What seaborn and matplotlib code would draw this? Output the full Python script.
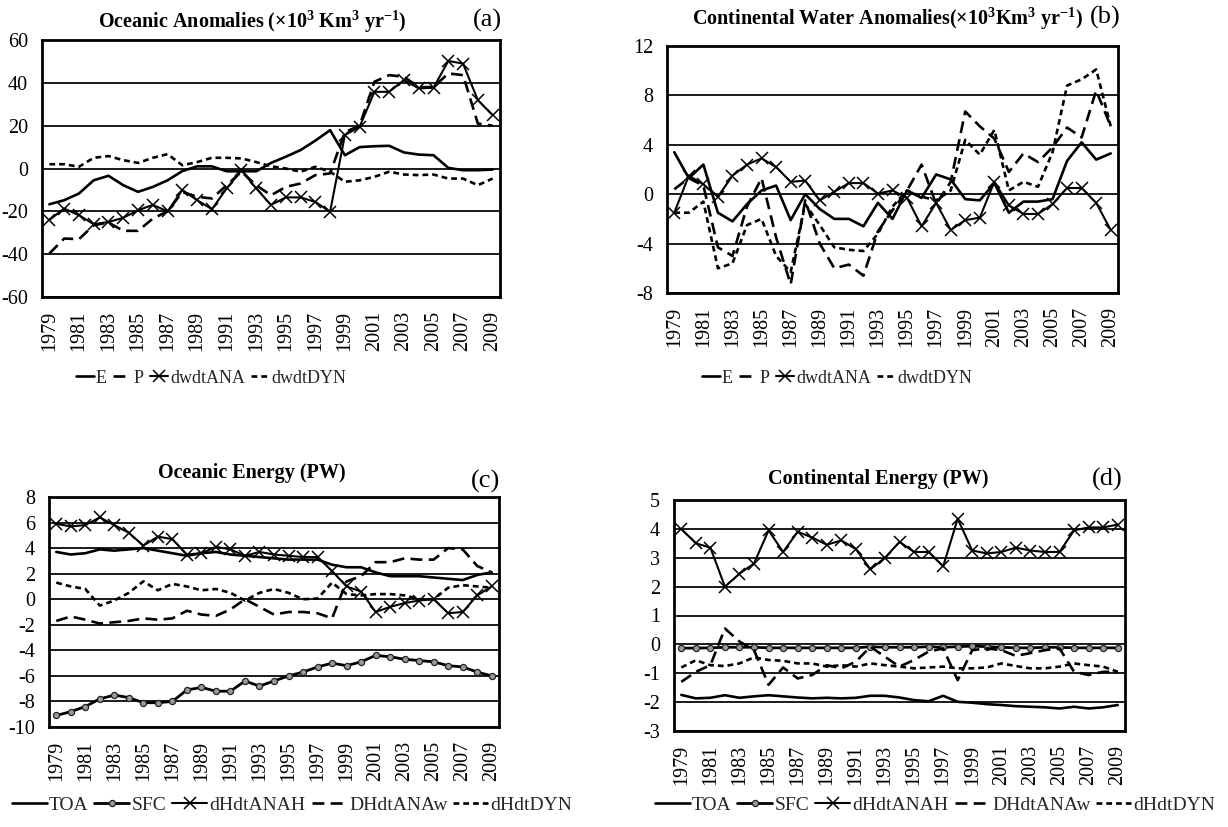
import numpy as np
import matplotlib
matplotlib.use('Agg')
import matplotlib.pyplot as plt
import seaborn as sns

years = list(range(1979, 2010))

# Panel (a) Oceanic anomalies
a_E = [-16.7, -14.8, -11.7, -5.5, -3.4, -7.8, -10.9, -8.6, -5.5, -1.2, 1.0, 1.0, -1.3, -1.3, -1.3, 2.6,
       5.5, 8.6, 13.0, 17.9, 6.2, 10.0, 10.4, 10.6, 7.5, 6.5, 6.2, 0.3, -0.8, -0.8, -0.5]
a_P = [-39.7, -32.7, -33.0, -26.5, -25.2, -29.1, -29.1, -23.4, -20.0, -11.0, -13.2, -14.0, -7.8, -1.5, -7.8,
       -12.5, -8.6, -7.0, -3.1, -2.3, 17.0, 20.0, 40.5, 43.6, 42.8, 38.0, 38.0, 44.4, 43.6, 21.0, 20.0]
a_ANA = [-24.0, -18.7, -21.8, -26.0, -25.0, -23.0, -19.5, -17.0, -20.0, -10.0, -14.8, -19.0, -9.3, -0.8, -9.3,
         -17.0, -13.5, -13.5, -15.6, -20.2, 15.6, 19.5, 35.8, 35.8, 41.3, 37.4, 37.7, 50.2, 49.0, 31.9, 24.9]
a_DYN = [2.0, 2.0, 0.8, 5.0, 5.8, 3.9, 2.6, 5.0, 6.7, 1.5, 3.0, 5.0, 5.0, 4.7, 3.0, 1.0, 0.0, -1.5, 0.8,
         -1.5, -6.2, -5.5, -3.9, -1.5, -2.8, -3.1, -2.8, -4.7, -4.7, -7.8, -4.7]

# Panel (b) Continental water anomalies
b_E = [3.4, 1.3, 2.4, -1.5, -2.2, -0.8, 0.3, 0.7, -2.1, 0.0, -1.2, -2.0, -2.0, -2.6, -0.7, -2.0, 0.3, -0.3,
       1.6, 1.2, -0.4, -0.5, 0.9, -1.5, -0.6, -0.6, -0.4, 2.7, 4.2, 2.8, 3.3]
b_P = [0.4, 1.3, 0.7, -4.3, -5.0, -1.0, 1.3, -3.5, -7.3, -0.5, -4.0, -6.0, -5.7, -6.6, -3.0, -1.3, 0.3, 2.4,
       -0.8, 1.0, 6.7, 5.5, 4.5, 1.8, 3.3, 2.6, 3.8, 5.4, 4.6, 8.4, 5.5]
b_ANA = [-1.5, 1.5, 0.8, -0.2, 1.5, 2.4, 2.9, 2.2, 1.0, 1.1, -0.5, 0.2, 0.9, 0.9, 0.05, 0.3, -0.3, -2.6,
         -0.7, -2.9, -2.1, -1.9, 1.0, -0.9, -1.6, -1.6, -0.8, 0.5, 0.5, -0.7, -2.9]
b_DYN = [-1.5, -1.5, -0.6, -6.0, -5.6, -2.5, -2.0, -5.0, -6.3, -0.8, -2.5, -4.3, -4.5, -4.6, -3.2, -1.0, 0.3,
         -0.2, -0.5, 0.3, 4.4, 3.2, 5.2, 0.3, 1.0, 0.6, 3.4, 8.8, 9.3, 10.1, 5.5]

# Panel (c) Oceanic energy
c_TOA = [3.7, 3.5, 3.6, 3.9, 3.8, 3.9, 4.0, 3.8, 3.6, 3.4, 3.6, 3.7, 3.5, 3.4, 3.3, 3.2, 3.1, 3.1, 3.1, 2.7,
         2.5, 2.5, 2.1, 1.8, 1.8, 1.8, 1.7, 1.6, 1.5, 1.9, 2.1]
c_SFC = [-9.1, -8.8, -8.4, -7.8, -7.5, -7.7, -8.1, -8.1, -8.0, -7.1, -6.9, -7.2, -7.2, -6.4, -6.8, -6.4, -6.0,
         -5.7, -5.3, -5.0, -5.2, -4.9, -4.4, -4.5, -4.7, -4.8, -4.9, -5.2, -5.3, -5.7, -6.0]
c_ANAH = [5.9, 5.7, 5.8, 6.4, 5.8, 5.2, 4.2, 4.9, 4.7, 3.5, 3.6, 4.1, 3.9, 3.4, 3.7, 3.5, 3.4, 3.3, 3.3, 2.2,
          1.0, 0.6, -1.0, -0.6, -0.3, -0.1, 0.0, -1.1, -1.0, 0.3, 1.0]
c_ANAw = [-1.7, -1.35, -1.6, -1.9, -1.8, -1.7, -1.5, -1.6, -1.5, -0.9, -1.2, -1.3, -0.8, 0.0, -0.6, -1.2, -1.0,
          -1.0, -1.1, -1.5, 1.4, 1.8, 2.9, 2.9, 3.2, 3.1, 3.1, 4.0, 3.9, 2.6, 2.1]
c_DYN = [1.3, 1.0, 0.8, -0.5, -0.1, 0.5, 1.4, 0.7, 1.2, 1.0, 0.7, 0.8, 0.5, -0.1, 0.5, 0.8, 0.5, 0.0, 0.05,
         1.3, 0.4, 0.3, 0.4, 0.4, 0.3, 0.0, 0.0, 0.9, 1.1, 1.0, 0.9]

# Panel (d) Continental energy
d_TOA = [-1.75, -1.87, -1.85, -1.76, -1.85, -1.8, -1.76, -1.8, -1.84, -1.87, -1.85, -1.87, -1.85, -1.78, -1.78,
         -1.84, -1.93, -1.97, -1.78, -1.99, -2.02, -2.07, -2.1, -2.14, -2.16, -2.18, -2.22, -2.16, -2.22, -2.18, -2.1]
d_SFC = [-0.13, -0.13, -0.12, -0.1, -0.1, -0.1, -0.12, -0.12, -0.12, -0.12, -0.12, -0.12, -0.12, -0.08, -0.1,
         -0.1, -0.1, -0.08, -0.1, -0.08, -0.06, -0.08, -0.1, -0.12, -0.12, -0.1, -0.1, -0.12, -0.12, -0.12, -0.12]
d_ANAH = [4.0, 3.5, 3.35, 2.0, 2.45, 2.8, 3.95, 3.2, 3.9, 3.7, 3.45, 3.6, 3.3, 2.6, 3.0, 3.55, 3.2, 3.2, 2.7,
          4.35, 3.25, 3.15, 3.2, 3.35, 3.25, 3.2, 3.2, 3.95, 4.05, 4.05, 4.15]
d_ANAw = [-1.3, -0.95, -0.72, 0.55, 0.1, -0.2, -1.4, -0.8, -1.18, -1.06, -0.72, -0.83, -0.6, -0.08, -0.43,
          -0.77, -0.54, -0.25, -0.14, -1.24, -0.2, -0.14, -0.2, -0.4, -0.3, -0.2, -0.14, -0.95, -1.06, -0.95, -0.95]
d_DYN = [-0.8, -0.55, -0.72, -0.75, -0.66, -0.45, -0.54, -0.57, -0.66, -0.66, -0.77, -0.72, -0.77, -0.66, -0.72,
         -0.77, -0.83, -0.8, -0.77, -0.83, -0.83, -0.8, -0.66, -0.75, -0.83, -0.83, -0.77, -0.66, -0.72, -0.77, -0.95]

sns.set_theme(style='white')
plt.rcParams['font.family'] = ['Liberation Serif', 'DejaVu Serif']
plt.rcParams['mathtext.fontset'] = 'custom'
plt.rcParams['mathtext.rm'] = 'Liberation Serif'
plt.rcParams['mathtext.bf'] = 'Liberation Serif:bold'
plt.rcParams['mathtext.it'] = 'Liberation Serif:italic'
plt.rcParams['mathtext.default'] = 'bf'

STY = {
    'solid': dict(linestyle='-', lw=1.9),
    'long': dict(linestyle=(0, (4.5, 2.4)), lw=1.9),
    'short': dict(linestyle=(0, (2.2, 1.5)), lw=1.9),
    'x': dict(linestyle='-', lw=1.5, marker='x', ms=8, mew=1.1, mec='black'),
    'o': dict(linestyle='-', lw=2.0, marker='o', ms=4.4, mfc='#9a9a9a', mec='#222222', mew=0.9),
}

fig = plt.figure(figsize=(12.28, 8.27), dpi=100)
W, H = 1228.0, 827.0


def axes_px(x0, y0, x1, y1):
    return fig.add_axes([x0 / W, 1 - y1 / H, (x1 - x0) / W, (y1 - y0) / H])


xpos = np.arange(len(years))


def draw(ax, series, ylim, ystep):
    for label, vals, sty in series:
        sns.lineplot(x=xpos, y=vals, ax=ax, color='black', label=label, **STY[sty])
    if ax.get_legend() is not None:
        ax.get_legend().remove()
    ax.set_xlim(-0.5, len(years) - 0.5)
    ax.set_ylim(*ylim)
    ticks = np.arange(ylim[0], ylim[1] + ystep / 2, ystep)
    ax.set_yticks(ticks)
    ax.set_yticklabels([f"{v:g}" for v in ticks])
    ax.set_xticks(xpos[::2])
    ax.set_xticklabels([str(y) for y in years[::2]], rotation=90)
    ax.set_xlabel('')
    ax.set_ylabel('')
    ax.yaxis.grid(True, color='#1a1a1a', lw=1.4)
    ax.xaxis.grid(False)
    ax.set_axisbelow(True)
    for s in ax.spines.values():
        s.set_color('black')
        s.set_linewidth(2.0)
    ax.tick_params(axis='both', length=0, pad=10, labelsize=14.5, colors='black')


def legend(ax, x, y, fs=13.5, hl=1.2, cs=0.5):
    h, l = ax.get_legend_handles_labels()
    fig.legend(h, l, loc='center', bbox_to_anchor=(x / W, 1 - y / H), ncol=len(h), frameon=False,
               fontsize=fs, handlelength=hl, handletextpad=0.12, columnspacing=cs, borderpad=0)


ax_a = axes_px(42, 40, 500, 297)
draw(ax_a, [('E', a_E, 'solid'), ('P', a_P, 'long'), ('dwdtANA', a_ANA, 'x'), ('dwdtDYN', a_DYN, 'short')],
     (-60, 60), 20)
legend(ax_a, 211, 378, fs=13, hl=1.0, cs=0.35)

ax_b = axes_px(667, 46, 1118, 293)
draw(ax_b, [('E', b_E, 'solid'), ('P', b_P, 'long'), ('dwdtANA', b_ANA, 'x'), ('dwdtDYN', b_DYN, 'short')],
     (-8, 12), 4)
legend(ax_b, 837, 378, fs=13, hl=1.0, cs=0.35)

ax_c = axes_px(49, 497, 499, 727)
draw(ax_c, [('TOA', c_TOA, 'solid'), ('SFC', c_SFC, 'o'), ('dHdtANAH', c_ANAH, 'x'),
            ('DHdtANAw', c_ANAw, 'long'), ('dHdtDYN', c_DYN, 'short')], (-10, 8), 2)
legend(ax_c, 292, 805, fs=14, hl=1.8, cs=0.3)

ax_d = axes_px(674, 500, 1125, 731)
draw(ax_d, [('TOA', d_TOA, 'solid'), ('SFC', d_SFC, 'o'), ('dHdtANAH', d_ANAH, 'x'),
            ('DHdtANAw', d_ANAw, 'long'), ('dHdtDYN', d_DYN, 'short')], (-3, 5), 1)
legend(ax_d, 935, 805, fs=14, hl=1.8, cs=0.3)

tkw = dict(ha='center', va='center', fontsize=14.5, fontweight='bold', color='black')
lkw = dict(ha='center', va='center', fontsize=19, color='black')
fig.text(252 / W, 1 - 22 / H, r"Oceanic Anomalies (×10$^{3}$ Km$^{3}$ yr$^{-1}$)", **tkw)
fig.text(487 / W, 1 - 20 / H, "(a)", **lkw)
fig.text(887 / W, 1 - 19 / H, r"Continental Water Anomalies(×10$^{3}$Km$^{3}$ yr$^{-1}$)", **tkw)
fig.text(1105 / W, 1 - 17 / H, "(b)", **lkw)
fig.text(252 / W, 1 - 473 / H, "Oceanic Energy (PW)", **tkw)
fig.text(486 / W, 1 - 481 / H, "(c)", **lkw)
fig.text(878 / W, 1 - 479 / H, "Continental Energy (PW)", **tkw)
fig.text(1107 / W, 1 - 479 / H, "(d)", **lkw)

fig.savefig('out.png', dpi=100, facecolor='white')
